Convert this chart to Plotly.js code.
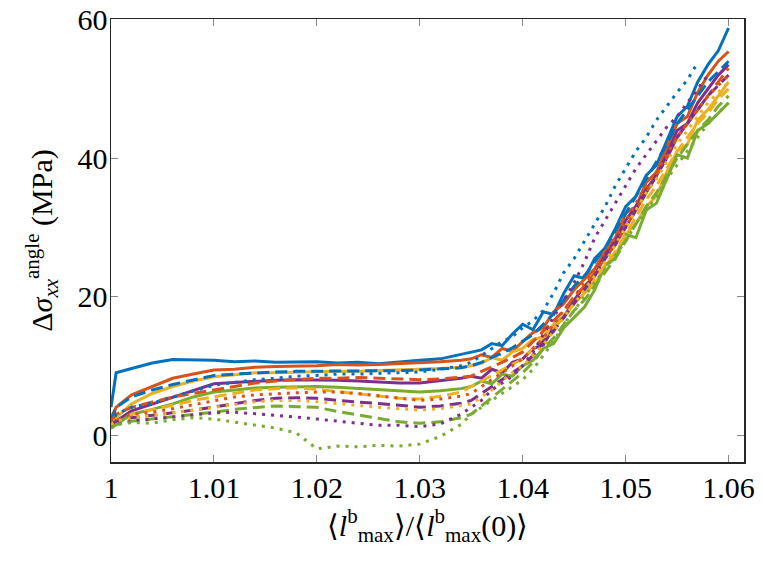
<!DOCTYPE html>
<html>
<head>
<meta charset="utf-8">
<script src="https://cdn.plot.ly/plotly-3.0.1.min.js"></script>
<style>
  html, body { margin: 0; padding: 0; background: #fff; }
  #chart { width: 763px; height: 564px; }
</style>
</head>
<body>
<div id="chart"></div>
<script>
// stretch ratio <l_max^b>/<l_max^b(0)>
const stretch = [
  1.000, 1.0005, 1.002, 1.004, 1.006, 1.008, 1.010, 1.012, 1.014, 1.016,
  1.018, 1.020, 1.022, 1.024, 1.026, 1.028, 1.030, 1.032, 1.034,
  1.035, 1.036, 1.037, 1.038, 1.039, 1.040, 1.041, 1.042, 1.043, 1.044,
  1.045, 1.046, 1.047, 1.048, 1.049, 1.050, 1.051, 1.052, 1.053, 1.054,
  1.055, 1.056, 1.057, 1.058, 1.059, 1.060
];

// delta sigma_xx^angle (MPa), solid lines
const blueSolid = [
  4.0, 9.0, 9.6, 10.4, 10.9, 10.9, 10.8, 10.6, 10.7, 10.5,
  10.5, 10.6, 10.4, 10.5, 10.3, 10.6, 10.8, 11.0, 11.6,
  12.0, 12.3, 13.2, 12.9, 14.6, 16.0, 15.2, 17.8, 17.4, 20.5,
  23.0, 22.6, 25.5, 27.0, 29.8, 33.0, 34.5, 37.5, 39.0, 42.5,
  46.0, 47.5, 51.0, 53.5, 55.5, 58.8
];
const orangeSolid = [
  2.5, 4.0, 5.8, 7.0, 8.2, 8.8, 9.4, 9.5, 9.8, 9.9,
  9.9, 10.0, 10.2, 10.1, 10.2, 10.3, 10.4, 10.6, 10.8,
  11.0, 11.6, 11.2, 12.5, 12.1, 13.5, 14.8, 15.5, 17.8, 19.0,
  21.0, 22.5, 24.0, 26.5, 28.5, 32.0, 33.0, 36.5, 38.0, 41.5,
  45.0, 46.0, 49.5, 52.0, 54.0, 55.4
];
const yellowSolid = [
  1.5, 2.5, 4.5, 6.0, 7.0, 7.8, 8.4, 8.7, 9.0, 9.0,
  9.1, 9.1, 9.2, 9.2, 9.3, 9.3, 9.4, 9.6, 9.8,
  10.0, 10.4, 11.2, 10.8, 12.0, 12.5, 13.8, 14.2, 16.0, 17.2,
  19.0, 20.5, 21.8, 24.5, 26.0, 29.0, 30.5, 33.0, 34.5, 38.0,
  41.0, 42.0, 45.5, 47.0, 49.0, 51.0
];
const purpleSolid = [
  1.0, 2.0, 3.5, 4.5, 5.5, 6.5, 7.4, 7.6, 7.8, 7.9,
  8.0, 8.0, 7.9, 7.8, 7.6, 7.5, 7.5, 7.8, 8.2,
  8.5, 8.2, 9.5, 9.0, 10.5, 11.0, 12.5, 13.0, 15.5, 17.0,
  19.5, 21.5, 23.0, 26.0, 28.0, 31.0, 33.0, 35.5, 37.5, 40.5,
  44.0, 45.0, 48.0, 50.0, 52.0, 53.5
];
const greenSolid = [
  1.0, 1.5, 3.0, 3.7, 4.5, 5.5, 6.2, 6.5, 6.8, 6.9,
  7.0, 7.0, 6.9, 6.7, 6.5, 6.3, 6.2, 6.4, 6.7,
  7.0, 7.8, 7.4, 8.8, 8.5, 10.0, 10.8, 12.5, 13.2, 15.5,
  17.0, 18.5, 21.0, 24.5, 25.5, 29.0, 28.5, 32.5, 33.5, 37.0,
  40.5, 40.0, 44.0, 45.0, 46.5, 48.0
];

// dashed lines
const blueDashed = [
  2.0, 4.0, 5.5, 6.5, 7.3, 8.0, 8.6, 8.8, 9.0, 9.1,
  9.2, 9.2, 9.2, 9.3, 9.2, 9.3, 9.4, 9.5, 9.7,
  10.0, 10.5, 11.2, 11.8, 12.6, 13.5, 14.5, 16.0, 17.5, 19.5,
  21.5, 23.0, 25.0, 27.0, 29.5, 32.0, 34.5, 37.0, 39.5, 42.0,
  45.0, 47.0, 49.0, 51.0, 52.5, 54.0
];
const orangeDashed = [
  2.0, 3.0, 4.0, 4.8, 5.5, 6.0, 6.5, 7.0, 7.5, 7.8,
  8.0, 8.2, 8.2, 8.3, 8.2, 8.1, 8.0, 8.1, 8.3,
  8.5, 9.2, 9.8, 10.5, 11.2, 12.0, 13.5, 15.0, 16.5, 18.0,
  20.0, 21.5, 23.5, 25.5, 27.5, 30.0, 32.5, 35.0, 37.5, 40.0,
  43.0, 45.0, 47.0, 49.0, 51.0, 53.0
];
const yellowDashed = [
  1.5, 2.0, 3.0, 3.6, 4.3, 5.0, 5.5, 6.0, 6.5, 6.7,
  6.8, 6.6, 6.3, 6.0, 5.6, 5.3, 5.2, 5.6, 6.2,
  7.0, 7.8, 8.6, 9.4, 10.2, 11.0, 12.5, 14.0, 15.5, 17.0,
  19.0, 20.5, 22.5, 24.5, 26.5, 29.0, 31.5, 34.0, 36.0, 38.5,
  41.0, 43.0, 45.0, 46.5, 48.5, 50.0
];
const purpleDashed = [
  1.5, 2.0, 2.5, 2.8, 3.2, 3.6, 4.0, 4.5, 5.0, 5.3,
  5.4, 5.3, 5.0, 4.8, 4.5, 4.3, 4.0, 4.2, 4.6,
  5.0, 6.0, 7.0, 8.0, 9.0, 10.0, 11.5, 13.5, 15.0, 17.0,
  19.0, 21.0, 23.0, 25.5, 27.5, 30.0, 32.5, 35.0, 37.5, 40.0,
  43.0, 45.0, 47.0, 49.0, 50.5, 52.0
];
const greenDashed = [
  1.0, 1.5, 2.0, 2.3, 2.7, 3.0, 3.3, 3.7, 4.0, 4.2,
  4.1, 4.0, 3.4, 2.9, 2.4, 1.9, 1.7, 1.9, 2.5,
  3.0, 4.2, 5.4, 6.6, 7.8, 9.0, 10.5, 12.5, 14.0, 16.0,
  18.0, 19.5, 21.5, 23.5, 25.5, 28.0, 30.5, 33.0, 35.0, 37.5,
  40.0, 42.0, 44.0, 45.5, 47.5, 49.0
];

// dotted lines
const blueDotted = [
  1.5, 3.0, 4.0, 4.6, 5.5, 6.4, 7.2, 7.6, 8.0, 8.2,
  8.5, 8.6, 8.8, 8.8, 8.9, 9.0, 9.1, 9.5, 10.0,
  10.5, 11.5, 12.5, 13.5, 14.2, 15.5, 16.5, 18.0, 20.5, 23.5,
  25.5, 28.0, 30.5, 33.0, 36.0, 38.5, 41.0, 43.0, 45.5, 47.5,
  49.5, 51.3, 53.8, null, null, null
];
const orangeDotted = [
  1.5, 2.0, 3.0, 3.3, 3.8, 4.4, 5.0, 5.5, 5.8, 6.0,
  6.1, 6.2, 6.2, 6.0, 5.7, 5.3, 5.0, 5.2, 5.6,
  6.0, 7.0, 8.0, 9.0, 10.0, 11.0, 12.5, 14.0, 16.0, 18.0,
  20.0, 22.0, 24.0, 26.5, 28.5, 31.0, 33.5, 36.0, 38.0, 40.5,
  43.0, 45.0, 47.0, 49.0, 50.5, 52.0
];
const yellowDotted = [
  1.5, 2.0, 2.5, 2.8, 3.2, 3.6, 4.0, 4.5, 4.8, 5.0,
  5.0, 4.8, 4.5, 4.2, 4.0, 3.8, 3.6, 3.8, 4.2,
  4.5, 5.5, 6.5, 7.8, 9.0, 10.0, 11.5, 13.0, 15.0, 17.0,
  19.0, 21.0, 23.0, 25.0, 27.5, 30.0, 32.5, 35.0, 37.0, 39.5,
  42.0, 44.0, 46.0, 48.0, 49.5, 51.0
];
const purpleDotted = [
  1.0, 1.5, 2.0, 2.3, 2.6, 3.0, 3.2, 3.3, 3.1, 2.9,
  2.6, 2.3, 2.0, 1.6, 1.4, 1.4, 1.2, 1.6, 3.0,
  4.0, 5.0, 6.5, 7.5, 8.5, 10.0, 12.0, 14.5, 17.0, 19.5,
  22.0, 25.0, 28.5, 31.0, 33.5, 36.0, 38.5, 40.5, 42.5, 44.5,
  46.0, 48.0, 50.0, 52.0, null, null
];
const greenDotted = [
  1.0, 1.5, 1.8, 1.7, 2.2, 2.5, 2.3, 1.9, 1.5, 1.0,
  0.3, -2.0, -1.6, -1.7, -1.5, -1.6, -1.3, -0.2, 1.5,
  3.0, 4.0, 5.0, 6.0, 7.0, 8.0, 9.5, 11.5, 13.5, 16.0,
  18.0, 20.0, 22.0, 24.0, 26.0, 28.0, 30.5, 32.5, 34.5, 37.0,
  39.0, 41.0, 43.0, 45.0, 46.5, 48.0
];

const xTicks = [1, 1.01, 1.02, 1.03, 1.04, 1.05, 1.06];
const xTickText = ['1', '1.01', '1.02', '1.03', '1.04', '1.05', '1.06'];
const yTicks = [0, 20, 40, 60];

// MATLAB default colour order
const BLUE = '#0072BD', ORANGE = '#D95319', YELLOW = '#EDB120', PURPLE = '#7E2F8E', GREEN = '#77AC30';
const SOLID = 'solid', DASHED = '12px,6px', DOTTED = '3px,6px';

const series = [
  [blueSolid, BLUE, SOLID], [orangeSolid, ORANGE, SOLID], [yellowSolid, YELLOW, SOLID],
  [purpleSolid, PURPLE, SOLID], [greenSolid, GREEN, SOLID],
  [blueDashed, BLUE, DASHED], [orangeDashed, ORANGE, DASHED], [yellowDashed, YELLOW, DASHED],
  [purpleDashed, PURPLE, DASHED], [greenDashed, GREEN, DASHED],
  [blueDotted, BLUE, DOTTED], [orangeDotted, ORANGE, DOTTED], [yellowDotted, YELLOW, DOTTED],
  [purpleDotted, PURPLE, DOTTED], [greenDotted, GREEN, DOTTED]
];

const data = series.map(([y, color, dash]) => ({
  x: stretch,
  y: y,
  mode: 'lines',
  line: { color: color, width: 3, dash: dash },
  connectgaps: false,
  hoverinfo: 'skip'
}));

const FONT = 'Liberation Serif';

const layout = {
  width: 763,
  height: 564,
  showlegend: false,
  paper_bgcolor: '#ffffff',
  plot_bgcolor: '#ffffff',
  margin: { l: 111, r: 19, t: 19, b: 102 },
  font: { family: FONT, size: 30, color: '#000000' },
  xaxis: {
    range: [1, 1.0615],
    tickvals: xTicks,
    ticktext: xTickText,
    ticks: 'inside',
    ticklen: 7,
    tickcolor: '#888888',
    tickwidth: 1,
    showline: true,
    linecolor: '#262626',
    linewidth: 1.5,
    mirror: 'allticks',
    showgrid: false,
    zeroline: false,
    ticklabelstandoff: -2,
    tickfont: { family: FONT, size: 30, color: '#000000' },
    title: {
      text: '⟨<i>l</i><sup>b</sup><sub>max</sub>⟩/⟨<i>l</i><sup>b</sup><sub>max</sub>(0)⟩',
      font: { family: FONT, size: 30, color: '#000000' },
      standoff: 12
    }
  },
  yaxis: {
    range: [-3.9, 60.1],
    tickvals: yTicks,
    ticks: 'inside',
    ticklen: 7,
    tickcolor: '#888888',
    tickwidth: 1,
    showline: true,
    linecolor: '#262626',
    linewidth: 1.5,
    mirror: 'allticks',
    showgrid: false,
    zeroline: false,
    ticklabelstandoff: -4,
    tickfont: { family: FONT, size: 30, color: '#000000' },
    title: {
      text: 'Δ<i>σ</i><sub><i>xx</i></sub><sup>angle</sup> (MPa)',
      font: { family: FONT, size: 30, color: '#000000' },
      standoff: 16
    }
  }
};

Plotly.newPlot('chart', data, layout, { staticPlot: true, displayModeBar: false });
</script>
</body>
</html>
